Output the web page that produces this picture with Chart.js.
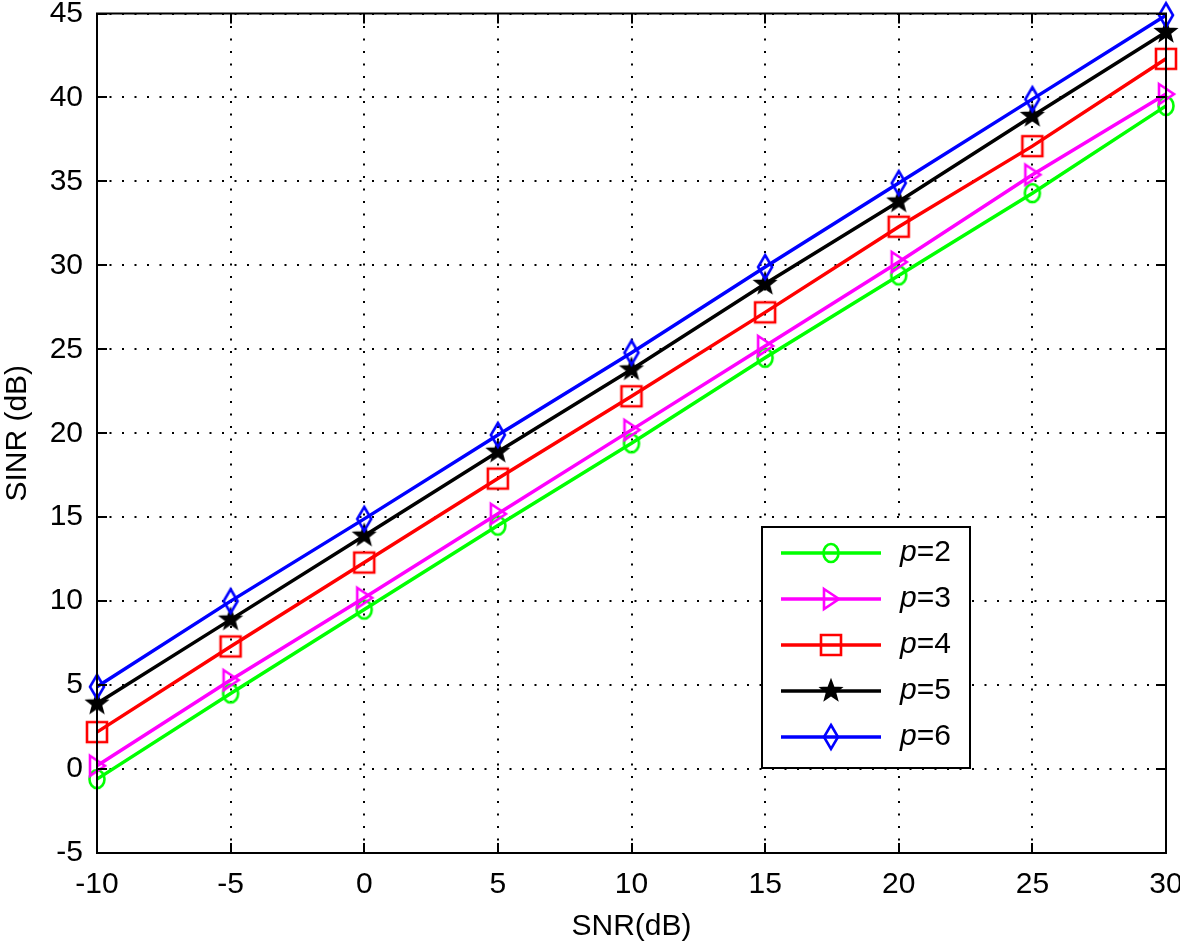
<!DOCTYPE html>
<html>
<head>
<meta charset="utf-8">
<script src="https://cdn.jsdelivr.net/npm/chart.js@4/dist/chart.umd.min.js"></script>
<style>
  html, body { margin: 0; padding: 0; background: #fff; }
  #wrap { width: 1180px; height: 949px; }
</style>
</head>
<body>
<div id="wrap"><canvas id="chart" width="1180" height="949"></canvas></div>
<script>
// x axis values (SNR in dB)
const snr = [-10, -5, 0, 5, 10, 15, 20, 25, 30]

// SINR for each p
const p2 = [-0.6, 4.5, 9.5, 14.5, 19.4, 24.5, 29.4, 34.3, 39.5]
const p3 = [0.2, 5.3, 10.2, 15.2, 20.2, 25.2, 30.2, 35.4, 40.2]
const p4 = [2.2, 7.3, 12.3, 17.3, 22.2, 27.2, 32.3, 37.1, 42.3]
const p5 = [3.9, 8.9, 13.9, 18.9, 23.8, 28.9, 33.8, 38.9, 43.9]
const p6 = [4.9, 10.0, 14.9, 19.9, 24.8, 29.9, 34.9, 39.9, 44.9]

const labels = ['2', '3', '4', '5', '6']

const FONT = '"Liberation Sans", Arial, sans-serif'

// Marker canvases (outline only, like matlab)
const makeMarker = (kind, color) => {
    const c = document.createElement('canvas')
    c.width = 30
    c.height = 30
    const g = c.getContext('2d')
    g.strokeStyle = color
    g.fillStyle = color
    g.lineWidth = 2.6
    g.beginPath()
    if (kind == 'circle') {
        g.ellipse(15, 15, 7.5, 9, 0, 0, Math.PI * 2)
    } else if (kind == 'tri') {
        g.moveTo(8, 5); g.lineTo(23, 15); g.lineTo(8, 25); g.closePath()
    } else if (kind == 'square') {
        g.rect(5, 5, 20, 20)
    } else if (kind == 'diamond') {
        g.moveTo(15, 3); g.lineTo(22, 15); g.lineTo(15, 27); g.lineTo(8, 15); g.closePath()
    } else if (kind == 'star') {
        for (let i = 0; i < 10; i++) {
            const r = i % 2 == 0 ? 9.5 : 4
            const a = -Math.PI / 2 + i * Math.PI / 5
            const px = 15 + r * Math.cos(a), py = 15 + r * Math.sin(a)
            i == 0 ? g.moveTo(px, py) : g.lineTo(px, py)
        }
        g.closePath()
        g.fill()
    }
    g.stroke()
    return c
}

const series = [
    { data: p2, color: '#00ff00', marker: 'circle' },
    { data: p3, color: '#ff00ff', marker: 'tri' },
    { data: p4, color: '#ff0000', marker: 'square' },
    { data: p5, color: '#000000', marker: 'star' },
    { data: p6, color: '#0000ff', marker: 'diamond' },
]

const datasets = series.map((s, i) => {
    const img = makeMarker(s.marker, s.color)
    s.img = img
    return {
        label: 'p=' + labels[i],
        data: s.data.map((v, j) => ({ x: snr[j], y: v })),
        borderColor: s.color,
        backgroundColor: s.color,
        borderWidth: 3.5,
        pointStyle: img,
        pointRadius: 10,
        tension: 0,
        clip: false,
        order: 5 - i,
    }
})

// Box, inward ticks and legend
const matlabPlugin = {
    id: 'matlab',
    afterDraw(chart) {
        const { ctx, chartArea: a, scales } = chart
        ctx.save()
        ctx.strokeStyle = '#000'
        ctx.lineWidth = 2

        // ticks
        const tl = 10
        ctx.beginPath()
        scales.x.ticks.forEach(t => {
            const px = Math.round(scales.x.getPixelForValue(t.value))
            ctx.moveTo(px, a.bottom); ctx.lineTo(px, a.bottom - tl)
            ctx.moveTo(px, a.top); ctx.lineTo(px, a.top + tl)
        })
        scales.y.ticks.forEach(t => {
            const py = Math.round(scales.y.getPixelForValue(t.value))
            ctx.moveTo(a.left, py); ctx.lineTo(a.left + tl, py)
            ctx.moveTo(a.right, py); ctx.lineTo(a.right - tl, py)
        })
        ctx.stroke()
        ctx.strokeRect(a.left, a.top, a.right - a.left, a.bottom - a.top)

        // legend
        const lx = 762, ly = 527, lw = 208, lh = 241
        ctx.fillStyle = '#fff'
        ctx.fillRect(lx, ly, lw, lh)
        ctx.strokeRect(lx, ly, lw, lh)
        ctx.textBaseline = 'middle'
        series.forEach((s, i) => {
            const y = 553 + i * 46
            ctx.strokeStyle = s.color
            ctx.lineWidth = 3.5
            ctx.beginPath()
            ctx.moveTo(781, y); ctx.lineTo(881, y)
            ctx.stroke()
            ctx.drawImage(s.img, 831 - 15, y - 15)
            ctx.fillStyle = '#000'
            ctx.font = 'italic 30px ' + FONT
            ctx.fillText('p', 900, y)
            const w = ctx.measureText('p').width
            ctx.font = '30px ' + FONT
            ctx.fillText('=' + labels[i], 900 + w, y)
        })
        ctx.restore()
    }
}

const grid = {
    color: '#000',
    lineWidth: 2,
    tickLength: 0,
    drawTicks: false,
}

new Chart(document.getElementById('chart'), {
    type: 'line',
    data: { datasets },
    options: {
        responsive: false,
        animation: false,
        layout: { padding: { top: 13, right: 14, left: 0, bottom: 0 } },
        plugins: { legend: { display: false }, tooltip: { enabled: false } },
        scales: {
            x: {
                type: 'linear',
                min: -10,
                max: 30,
                border: { display: false, dash: [2, 10.5] },
                grid,
                ticks: { stepSize: 5, color: '#000', font: { size: 30, family: FONT }, padding: 14, maxRotation: 0 },
                title: { display: true, text: 'SNR(dB)', color: '#000', font: { size: 30, family: FONT }, padding: { top: 0, bottom: 4 } },
                afterFit: s => { s.height = 96; s.paddingLeft = 0; s.paddingRight = 0 },
            },
            y: {
                min: -5,
                max: 45,
                border: { display: false, dash: [2, 10.5] },
                grid,
                ticks: { stepSize: 5, color: '#000', font: { size: 30, family: FONT }, padding: 14 },
                title: { display: true, text: 'SINR (dB)', color: '#000', font: { size: 30, family: FONT }, padding: { top: 0, bottom: 0 } },
                afterFit: s => { s.width = 97; s.paddingTop = 0; s.paddingBottom = 0 },
            },
        },
    },
    plugins: [matlabPlugin],
})
</script>
</body>
</html>
